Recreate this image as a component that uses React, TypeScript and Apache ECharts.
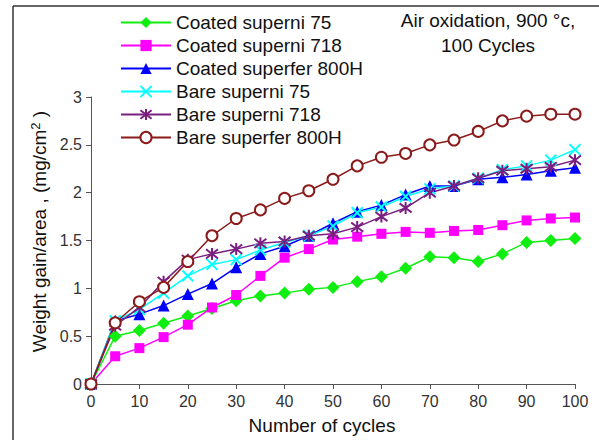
import React, { useEffect, useRef } from "react";
import * as echarts from "echarts";

const cycles = [0, 5, 10, 15, 20, 25, 30, 35, 40, 45, 50, 55, 60, 65, 70, 75, 80, 85, 90, 95, 100];
const coatedSuperni75 = [0, 0.5, 0.56, 0.635, 0.71, 0.79, 0.87, 0.92, 0.95, 0.99, 1.01, 1.07, 1.12, 1.21, 1.33, 1.32, 1.28, 1.36, 1.48, 1.5, 1.52];
const coatedSuperni718 = [0, 0.29, 0.375, 0.49, 0.62, 0.8, 0.93, 1.13, 1.32, 1.41, 1.51, 1.54, 1.57, 1.59, 1.58, 1.6, 1.61, 1.66, 1.71, 1.73, 1.74];
const coatedSuperfer800H = [0, 0.66, 0.73, 0.82, 0.94, 1.05, 1.22, 1.36, 1.44, 1.55, 1.68, 1.8, 1.87, 1.98, 2.07, 2.07, 2.14, 2.16, 2.19, 2.23, 2.26];
const bareSuperni75 = [0, 0.66, 0.78, 0.95, 1.13, 1.25, 1.3, 1.4, 1.48, 1.55, 1.65, 1.79, 1.85, 1.96, 2.04, 2.07, 2.15, 2.24, 2.28, 2.34, 2.45];
const bareSuperni718 = [0, 0.61, 0.8, 1.07, 1.3, 1.36, 1.41, 1.47, 1.49, 1.55, 1.57, 1.64, 1.75, 1.84, 2.0, 2.07, 2.15, 2.23, 2.25, 2.27, 2.34];
const bareSuperfer800H = [0, 0.64, 0.86, 1.01, 1.28, 1.55, 1.73, 1.82, 1.94, 2.02, 2.14, 2.28, 2.37, 2.41, 2.5, 2.55, 2.64, 2.75, 2.8, 2.82, 2.82];

const seriesNames = [
  "Coated superni 75",
  "Coated superni 718",
  "Coated superfer 800H",
  "Bare superni 75",
  "Bare superni 718",
  "Bare superfer 800H",
];
const titleText = "Air oxidation, 900 °c,\n100 Cycles";
const xName = "Number of cycles";
const yName = "Weight gain/area , (mg/cm{sup|2} )";

const FONT = "'Liberation Sans', Arial, sans-serif";

export default function App() {
  const ref = useRef<HTMLDivElement>(null);
  useEffect(() => {
    document.body.style.margin = "0";
    const chart = echarts.init(ref.current!, null, { renderer: "svg" });
    const pair = (ys: number[]) => cycles.map((c, i) => [c, ys[i]]);
    const mk = (
      name: string,
      ys: number[],
      color: string,
      symbol: string,
      size: number,
      extraItem: any = {}
    ) => ({
      name,
      type: "line",
      data: pair(ys),
      symbol,
      symbolSize: size,
      lineStyle: { color, width: 1.5 },
      itemStyle: { color, borderColor: color, borderWidth: 0, ...extraItem },
      emphasis: { disabled: true },
    });
    const xPath = "path://M0,0L10,10M10,0L0,10";
    const starPath = "path://M0,0.8L10,9.2M10,0.8L0,9.2M5,-0.5L5,10.5";
    chart.setOption({
      animation: false,
      textStyle: { fontFamily: FONT },
      grid: { left: 91, right: 24, top: 97, bottom: 55 },
      legend: {
        orient: "vertical",
        left: 115,
        top: 8,
        itemWidth: 50,
        itemHeight: 14,
        itemGap: 4,
        itemTextGap: 7,
        textStyle: { fontSize: 19, color: "#111", fontFamily: FONT, lineHeight: 19 },
        data: seriesNames,
      },
      graphic: [
        {
          type: "line",
          shape: { x1: 13, y1: 6, x2: 599, y2: 6 },
          style: { stroke: "#333", lineWidth: 1.5 },
        },
        {
          type: "line",
          shape: { x1: 13, y1: 6, x2: 13, y2: 440 },
          style: { stroke: "#333", lineWidth: 1.5 },
        },
        {
          type: "text",
          x: 488,
          y: 8,
          style: {
            text: titleText,
            font: `19px ${FONT}`,
            fill: "#111",
            textAlign: "center",
            lineHeight: 25,
          },
        },
      ],
      xAxis: {
        type: "value",
        min: 0,
        max: 100,
        interval: 10,
        name: xName,
        nameLocation: "middle",
        nameGap: 32,
        nameTextStyle: { fontSize: 19, color: "#111", padding: [0, 22, 0, 0] },
        axisLine: { lineStyle: { color: "#555", width: 1 } },
        axisTick: { show: true, length: 5, lineStyle: { color: "#555" } },
        axisLabel: { fontSize: 16, color: "#333", margin: 9 },
        splitLine: { show: false },
      },
      yAxis: {
        type: "value",
        min: 0,
        max: 3,
        interval: 0.5,
        name: yName,
        nameLocation: "middle",
        nameGap: 40,
        nameTextStyle: {
          fontSize: 19,
          color: "#111",
          padding: [0, 0, 0, 18],
          rich: {
            sup: { fontSize: 13, verticalAlign: "top", padding: [0, 0, 8, 0], color: "#111" },
          },
        },
        axisLine: { show: true, lineStyle: { color: "#555", width: 1 } },
        axisTick: { show: true, length: 5, lineStyle: { color: "#555" } },
        axisLabel: { fontSize: 16, color: "#333", margin: 9 },
        splitLine: { show: false },
      },
      series: [
        mk(seriesNames[0], coatedSuperni75, "#10EE10", "diamond", 13),
        mk(seriesNames[1], coatedSuperni718, "#FF00FF", "rect", 10),
        mk(seriesNames[2], coatedSuperfer800H, "#0000FF", "triangle", 12),
        mk(seriesNames[3], bareSuperni75, "#00FFFF", xPath, 11, { borderWidth: 2 }),
        mk(seriesNames[4], bareSuperni718, "#7A1F80", starPath, 12, { borderWidth: 2 }),
        {
          ...mk(seriesNames[5], bareSuperfer800H, "#8B1A1A", "emptyCircle", 11),
          itemStyle: { color: "#8B1A1A", borderColor: "#8B1A1A", borderWidth: 1.6 },
        },
      ],
    });
    return () => chart.dispose();
  }, []);
  return (
    <div
      ref={ref}
      style={{ position: "fixed", left: 0, top: 0, width: 599, height: 440, background: "#fff" }}
    />
  );
}
